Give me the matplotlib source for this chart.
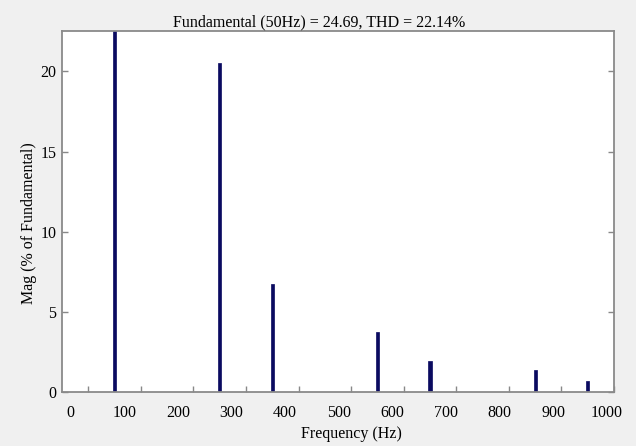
import numpy as np
import matplotlib
matplotlib.use('Agg')
import matplotlib.pyplot as plt

# harmonic spectrum (% of fundamental)
freqs = [50, 250, 350, 550, 650, 850, 950]
mags = [100, 20.55, 6.75, 3.74, 1.95, 1.39, 0.70]

xtick_marks = [0, 100, 200, 300, 400, 500, 600, 700, 800, 900, 1000]
xtick_labels = [0, 100, 200, 300, 400, 500, 600, 700, 800, 900, 1000]
yticks = [0, 5, 10, 15, 20]

title = 'Fundamental (50Hz) = 24.69, THD = 22.14%'

plt.rcParams['font.family'] = 'Liberation Serif'
plt.rcParams['font.size'] = 11.5

W, H = 636, 446
fig = plt.figure(figsize=(W / 100, H / 100), dpi=100, facecolor='#f0f0f0')
ax = fig.add_axes([62 / W, 1 - 392.3 / H, 552 / W, 361.6 / H])
ax.set_facecolor('white')

ax.bar(freqs, mags, width=6, color='#0a0a60', edgecolor='#0a0a60', linewidth=0.5)

ax.set_xlim(-50, 1000)
ax.set_ylim(0, 22.54)
ax.set_xticks(xtick_marks)
ax.set_yticks(yticks)
ax.tick_params(axis='both', direction='in', length=4, width=1, color='#888888',
               top=True, right=True, labelbottom=False, pad=4)
for s in ax.spines.values():
    s.set_color('#8a8a8a')
    s.set_linewidth(1.3)

# tick labels sit slightly off the tick marks in the original
ax2 = ax.twiny()
ax2.set_xlim(-16.2, 1013.6)
ax2.set_xticks(xtick_labels)
ax2.set_xticklabels([str(v) for v in xtick_labels])
ax2.xaxis.set_ticks_position('bottom')
ax2.xaxis.set_label_position('bottom')
ax2.tick_params(axis='x', length=0, pad=9)
for s in ax2.spines.values():
    s.set_visible(False)

fig.text(319.5 / W, 1 - 26.5 / H, title, ha='center', va='baseline')
fig.text(351.7 / W, 1 - 434 / H, 'Frequency (Hz)', ha='center', va='center')
fig.text(29 / W, 1 - 223.5 / H, 'Mag (% of Fundamental)', ha='center', va='center',
         rotation=90)

fig.savefig('out.png', dpi=100, facecolor=fig.get_facecolor())
